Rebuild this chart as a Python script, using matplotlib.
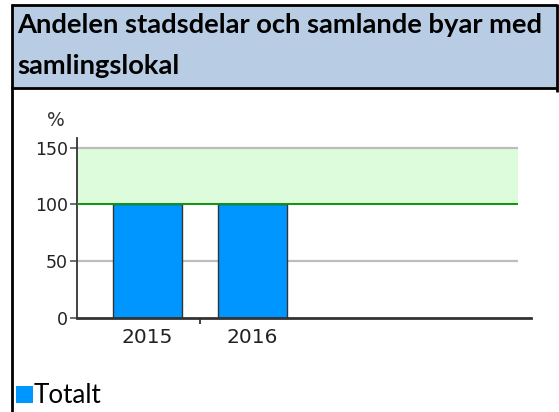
import matplotlib
matplotlib.use("Agg")
import matplotlib.pyplot as plt
from matplotlib.patches import Rectangle
from matplotlib.lines import Line2D

# ---- data ----
categories = ["2015", "2016"]
totalt = [100, 100]
target_low = 100
target_high = 150
yticks = [0, 50, 100, 150]
title_lines = ["Andelen stadsdelar och samlande byar med", "samlingslokal"]
legend_label = "Totalt"
y_unit = "%"

W, H = 559, 412
DPI = 100
fig = plt.figure(figsize=(W / DPI, H / DPI), dpi=DPI)
fig.patch.set_facecolor("white")

def fx(px):
    return px / W

def fy(py):
    return 1 - py / H

# ---- header box & borders ----
fig.patches.append(Rectangle((fx(12), fy(88)), fx(556 - 12), (88 - 5) / H,
                             transform=fig.transFigure, facecolor="#b8cce4",
                             edgecolor="none", zorder=0))
def fline(x0, y0, x1, y1, lw=2, color="black"):
    fig.lines.append(Line2D([fx(x0), fx(x1)], [fy(y0), fy(y1)], transform=fig.transFigure,
                            color=color, lw=lw, solid_capstyle="butt"))
fline(11, 4.5, 557, 4.5)          # top
fline(11.5, 4, 11.5, 412)          # left
fline(556.5, 4, 556.5, 92)         # right (short)
fline(11, 88, 557, 88)            # header separator

# ---- title with width fit ----
renderer = fig.canvas.get_renderer()
t1 = fig.text(fx(17), fy(33), title_lines[0], fontsize=16, fontweight="bold",
              family=["Lato", "DejaVu Sans"], color="black", va="baseline", ha="left")
w = t1.get_window_extent(renderer).width
fs = 16 * 528 / w
t1.set_fontsize(fs)
fig.text(fx(17), fy(74), title_lines[1], fontsize=fs, fontweight="bold",
         family=["Lato", "DejaVu Sans"], color="black", va="baseline", ha="left")

# ---- axes ----
ax_left, ax_right, ax_top, ax_bottom = 77, 531, 138, 318
ax = fig.add_axes([fx(ax_left), fy(ax_bottom), (ax_right - ax_left) / W, (ax_bottom - ax_top) / H])
ax.set_facecolor("white")

px_per_cat = 104.5
c0 = 147.5
xlim = ((ax_left - c0) / px_per_cat, (ax_right - c0) / px_per_cat)
grid_end = (518 - c0) / px_per_cat
ymax = 150 * (ax_bottom - ax_top) / (318 - 147.7)
ax.set_xlim(*xlim)
ax.set_ylim(0, ymax)

x = list(range(len(categories)))

# target band
ax.fill_between([xlim[0], grid_end], target_low, target_high, color="#dcfcdc", zorder=0, lw=0)
for yv in yticks[1:]:
    if yv == target_low:
        continue
    ax.plot([xlim[0], grid_end], [yv, yv], color="#bdbdbd", lw=1.6, zorder=1, solid_capstyle="butt")
ax.plot([xlim[0], grid_end], [target_low, target_low], color="#0a960a", lw=1.4, zorder=3,
        solid_capstyle="butt")

ax.bar(x, totalt, width=69 / px_per_cat, color="#0096ff", edgecolor="#333333", lw=1.0, zorder=2)

for s in ["top", "right"]:
    ax.spines[s].set_visible(False)
ax.spines["left"].set_color("#333333")
ax.spines["left"].set_linewidth(1.3)
ax.spines["bottom"].set_color("#333333")
ax.spines["bottom"].set_linewidth(2.0)
ax.spines["bottom"].set_zorder(4)

ax.set_yticks(yticks)
ax.set_yticklabels([str(v) for v in yticks])
ax.tick_params(axis="y", length=5, width=1.2, color="#555555", pad=1.5,
               labelsize=12.5, labelcolor="#222222", direction="out")
ax.set_xticks(x)
ax.set_xticklabels(categories)
ax.tick_params(axis="x", which="major", length=0, pad=7.5, labelsize=14.5, labelcolor="#222222")
ax.set_xticks([0.5], minor=True)
ax.tick_params(axis="x", which="minor", length=4.5, width=1.3, color="#333333", direction="out")
for lab in ax.get_xticklabels() + ax.get_yticklabels():
    lab.set_family("DejaVu Sans")

fig.text(fx(47), fy(126), y_unit, fontsize=13.5, family="DejaVu Sans", color="#333333",
         ha="left", va="baseline")

# ---- legend ----
fig.patches.append(Rectangle((fx(16), fy(403)), fx(17), 17 / H, transform=fig.transFigure,
                             facecolor="#0096ff", edgecolor="none"))
tl = fig.text(fx(34), fy(403), legend_label, fontsize=16, family=["Lato", "DejaVu Sans"],
              color="black", ha="left", va="baseline")
wl = tl.get_window_extent(renderer).width
tl.set_fontsize(16 * 68 / wl)

fig.savefig("out.png", dpi=DPI, facecolor="white")
